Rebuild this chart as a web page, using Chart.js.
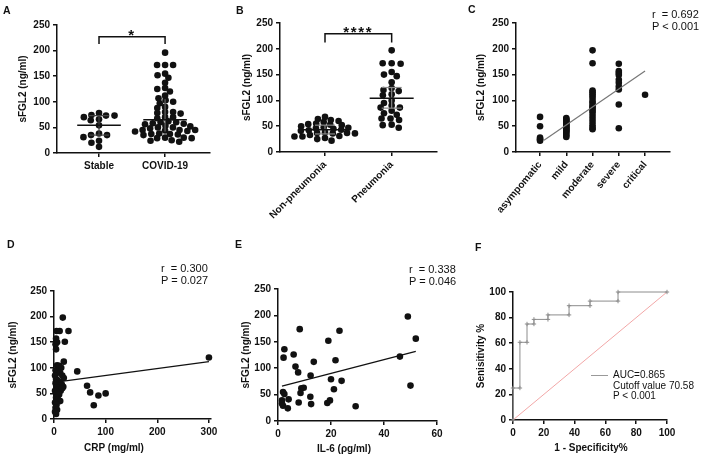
<!DOCTYPE html>
<html>
<head>
<meta charset="utf-8">
<script src="https://cdn.jsdelivr.net/npm/chart.js@4.4.0/dist/chart.umd.min.js"></script>
<style>
body { margin: 0; background: #fff; width: 702px; height: 460px; position: relative; overflow: hidden; font-family: 'Liberation Sans', Arial, sans-serif; color: #111; }
canvas { position: absolute; }
.lab { position: absolute; font-weight: bold; font-size: 10.5px; line-height: 10.5px; }
.note { position: absolute; font-size: 11px; line-height: 12px; white-space: pre; }
.leg { position: absolute; font-size: 10px; line-height: 10.5px; white-space: pre; }
.ttl { position: absolute; font-weight: bold; font-size: 10px; white-space: nowrap; transform: translate(-50%, -50%); }
</style>
</head>
<body>
<canvas id="cA" width="234" height="215" style="left:0;top:0"></canvas>
<canvas id="cB" width="234" height="230" style="left:234px;top:0"></canvas>
<canvas id="cC" width="234" height="230" style="left:468px;top:0"></canvas>
<canvas id="cD" width="234" height="235" style="left:0;top:225px"></canvas>
<canvas id="cE" width="234" height="235" style="left:234px;top:225px"></canvas>
<canvas id="cF" width="234" height="235" style="left:468px;top:225px"></canvas>

<div class="lab" style="left:3px;top:5px">A</div>
<div class="lab" style="left:236px;top:5px">B</div>
<div class="lab" style="left:468px;top:4px">C</div>
<div class="lab" style="left:7px;top:239px">D</div>
<div class="lab" style="left:235px;top:239px">E</div>
<div class="lab" style="left:475px;top:242px">F</div>

<div class="note" style="left:652px;top:8px">r  = 0.692
P &lt; 0.001</div>
<div class="note" style="left:161px;top:262px">r  = 0.300
P = 0.027</div>
<div class="note" style="left:409px;top:263px">r  = 0.338
P = 0.046</div>

<div class="ttl" style="left:114px;top:447px">CRP (mg/ml)</div>
<div class="ttl" style="left:344px;top:448px">IL-6 (ρg/ml)</div>
<div class="ttl" style="left:591px;top:447px">1 - Specificity%</div>

<div style="position:absolute;left:591px;top:375px;width:17px;border-top:1px solid #999"></div>
<div class="leg" style="left:613px;top:370px">AUC=0.865
Cutoff value 70.58
P &lt; 0.001</div>

<script>
// ---------- data ----------
const groupsA = ['Stable', 'COVID-19'];
const stableVals = [74, 70, 73, 78, 73, 64, 66, 54, 35, 35, 31, 38, 24, 20, 12];
const covidVals = [196, 172, 172, 172, 155, 152, 147, 137, 125, 127, 120, 112, 107, 103, 100, 97, 90, 88,
  80, 78, 80, 77, 70, 68, 70, 57, 60, 60, 58, 62, 56, 52, 50, 53, 50, 48, 45, 43, 45, 42, 44, 45,
  37, 36, 38, 35, 37, 30, 29, 30, 29, 25, 24, 22];
const mediansA = [54, 65];
const iqrA = [[35, 73], [42, 105]];

const groupsB = ['Non-pneumonia', 'Pneumonia'];
const nonPneuVals = [68, 62, 64, 60, 58, 54, 52, 53, 55, 50, 47, 48, 45, 46, 42, 41, 43, 36, 37, 36, 38, 37,
  30, 30, 31, 33, 27, 25, 22];
const pneuVals = [197, 172, 172, 171, 150, 147, 155, 135, 118, 124, 120, 110, 112, 86, 95, 100, 86, 90,
  75, 72, 80, 65, 65, 62, 47, 53, 52];
const mediansB = [43, 104];
const iqrB = [[35, 52], [85, 125]];

const groupsC = ['asympomatic', 'mild', 'moderate', 'severe', 'critical'];
const severityVals = [
  [68, 50, 28, 25, 22, 24],
  [66, 64, 62, 60, 58, 56, 54, 52, 50, 48, 46, 44, 42, 40, 38, 35, 32, 29],
  [197, 172, 119, 116, 112, 108, 103, 98, 95, 90, 87, 84, 80, 76, 70, 64, 58, 52, 47, 44],
  [171, 157, 153, 149, 140, 134, 127, 121, 92, 46],
  [111]
];
const trendC = [[1.15, 23], [5, 157]];

const crpX = [17, 5, 11, 28, 4, 6, 3, 21, 4, 19, 6, 10, 14, 45, 3, 8, 12, 16, 19, 2, 4, 7, 11, 15, 18, 3, 5, 9,
  13, 16, 2, 6, 10, 4, 8, 12, 2, 5, 3, 6, 2, 4, 64, 70, 86, 100, 77, 300];
const crpY = [198, 172, 172, 172, 157, 150, 146, 151, 136, 112, 105, 104, 100, 93, 95, 92, 90, 85, 80, 85, 78,
  75, 72, 68, 63, 70, 62, 58, 55, 60, 55, 50, 48, 42, 38, 35, 32, 28, 22, 18, 14, 10, 65, 52, 46, 50, 27, 120];
const trendD = [[4, 72], [300, 112]];

const il6X = [49, 52, 46, 50, 8.2, 23.2, 19, 2.4, 2.1, 5.9, 6.6, 7.6, 13.5, 21.7, 12.3, 8.8, 9.7, 20, 24,
  21.1, 8.5, 12.2, 1.9, 2.4, 1.5, 1.5, 4, 1.9, 3.7, 7.8, 12.5, 18.6, 19.6, 29.3];
const il6Y = [198, 156, 122, 67, 174, 171, 152, 136, 120, 126, 103, 92, 112, 115, 86, 62, 63, 79, 76,
  60, 53, 46, 55, 51, 39, 33, 41, 29, 24, 35, 32, 34, 39, 28];
const trendE = [[1.5, 66], [52, 132]];

const rocX = [0, 0, 4.5, 4.5, 9.1, 9.1, 13.6, 13.6, 22.7, 22.7, 36.4, 36.4, 50, 50, 68.2, 68.2, 100];
const rocY = [0, 25, 25, 60.7, 60.7, 75, 75, 78.6, 78.6, 82.1, 82.1, 89.3, 89.3, 92.9, 92.9, 100, 100];

const ticksSFGL2 = [0, 50, 100, 150, 200, 250];
const ticksCRP = [0, 100, 200, 300];
const ticksIL6 = [0, 20, 40, 60];
const ticksPct = [0, 20, 40, 60, 80, 100];

// ---------- helpers ----------
const INK = '#111';
Chart.defaults.font.family = "'Liberation Sans', Arial, sans-serif";
Chart.defaults.color = INK;

// deterministic beeswarm: each dot takes the free horizontal offset nearest the column centre.
// dots need `ax` px apart side by side, `by` px apart when stacked
function swarm(values, center, xPx, yPx, ax, by) {
  const placed = [];
  values.slice().sort((a, b) => b - a).forEach(v => {
    const y = v * yPx;
    const blocks = [];
    placed.forEach(p => {
      const dy = Math.abs(p.y - y);
      if (dy < by) {
        const w = ax * Math.sqrt(1 - (dy / by) * (dy / by));
        blocks.push([p.x - w, p.x + w]);
      }
    });
    const cands = [0];
    blocks.forEach(b => cands.push(b[0], b[1]));
    cands.sort((a, b) => Math.abs(a) - Math.abs(b) || a - b);
    const x = cands.find(c => blocks.every(b => c <= b[0] + 1e-6 || c >= b[1] - 1e-6));
    placed.push({ x, y, v });
  });
  return placed.map(p => ({ x: center + p.x / xPx, y: p.v }));
}

function dots(points, r) {
  return { data: points, pointRadius: r || 3.3, pointHoverRadius: r || 3.3, backgroundColor: INK, borderWidth: 0, clip: false };
}

function seg(pts, color, w) {
  return { data: pts.map(p => ({ x: p[0], y: p[1] })), showLine: true, borderColor: color, borderWidth: w,
    pointRadius: 0, pointHoverRadius: 0, clip: false };
}

function summaryLines(center, med, iqr, iqrColor, caps) {
  const out = [seg([[center - 0.33, med], [center + 0.33, med]], INK, 1.5)];
  out.push(seg([[center, iqr[0]], [center, iqr[1]]], iqrColor, 1.2));
  if (caps) {
    out.push(seg([[center - 0.15, iqr[0]], [center + 0.15, iqr[0]]], iqrColor, 1.2));
    out.push(seg([[center - 0.15, iqr[1]], [center + 0.15, iqr[1]]], iqrColor, 1.2));
  }
  return out;
}

const gridStyle = { drawOnChartArea: false, color: INK, lineWidth: 1.5, tickLength: 4 };
const borderStyle = { color: INK, width: 1.5 };
const tickFont = { weight: 'bold', size: 10 };

function yAxis(w, ticks, title, titlePad) {
  return {
    type: 'linear', min: ticks[0], max: ticks[ticks.length - 1],
    afterBuildTicks: s => { s.ticks = ticks.map(value => ({ value })); },
    ticks: { color: INK, padding: 3, font: tickFont },
    grid: gridStyle, border: borderStyle,
    title: { display: true, text: title, color: INK, font: { weight: 'bold', size: 10 }, padding: { top: titlePad, bottom: 0 } },
    afterFit: s => { s.width = w; }
  };
}

function catAxis(h, min, max, labels, rot) {
  return {
    type: 'linear', min, max,
    afterBuildTicks: s => { s.ticks = labels.map((_, i) => ({ value: i + 1 })); },
    ticks: { callback: v => labels[Math.round(v) - 1], autoSkip: false, minRotation: rot, maxRotation: rot,
      color: INK, padding: 3, font: tickFont },
    grid: gridStyle, border: borderStyle,
    afterFit: s => { s.height = h; }
  };
}

function numAxis(h, ticks, max) {
  return {
    type: 'linear', min: ticks[0], max: max || ticks[ticks.length - 1],
    afterBuildTicks: s => { s.ticks = ticks.map(value => ({ value })); },
    ticks: { autoSkip: false, color: INK, padding: 3, font: tickFont },
    grid: gridStyle, border: borderStyle,
    afterFit: s => { s.height = h; }
  };
}

// significance bracket between the two groups
const bracketPlugin = {
  id: 'bracket',
  afterDatasetsDraw(chart, args, opts) {
    const { x, y } = chart.scales;
    const ctx = chart.ctx;
    const x1 = x.getPixelForValue(1), x2 = x.getPixelForValue(2);
    const yTop = y.getPixelForValue(opts.y), yBot = y.getPixelForValue(opts.yEnd);
    ctx.save();
    ctx.strokeStyle = INK;
    ctx.lineWidth = 1.5;
    ctx.beginPath();
    ctx.moveTo(x1, yBot); ctx.lineTo(x1, yTop); ctx.lineTo(x2, yTop); ctx.lineTo(x2, yBot);
    ctx.stroke();
    ctx.fillStyle = INK;
    ctx.font = "bold 15px 'Liberation Sans', Arial";
    ctx.textAlign = 'center';
    ctx.letterSpacing = '1.7px';
    ctx.fillText(opts.text, (x1 + x2) / 2, yTop + 3);
    ctx.restore();
  }
};

function plot(id, datasets, scales, pad, extra) {
  return new Chart(document.getElementById(id), {
    type: 'scatter',
    data: { datasets },
    options: {
      responsive: false, animation: false, devicePixelRatio: 1,
      layout: { padding: pad },
      scales,
      plugins: Object.assign({ legend: { display: false }, tooltip: { enabled: false } }, extra ? extra.opts : {})
    },
    plugins: extra ? [extra.plugin] : []
  });
}

// ---------- A ----------
plot('cA', [
  ...summaryLines(1, mediansA[0], iqrA[0], '#444', true),
  ...summaryLines(2, mediansA[1], iqrA[1], '#666', false),
  dots(swarm(stableVals, 1, 66, 0.512, 8.5, 4.5)),
  dots(swarm(covidVals, 2, 66, 0.512, 8, 4.5))
], { x: catAxis(62, 0.364, 2.68, groupsA, 0), y: yAxis(57, ticksSFGL2, 'sFGL2 (ng/ml)', 17) },
  { left: 0, right: 24, top: 25, bottom: 0 },
  { plugin: bracketPlugin, opts: { bracket: { y: 227, yEnd: 213, text: '*' } } });

// ---------- B ----------
plot('cB', [
  ...summaryLines(1, mediansB[0], iqrB[0], '#888', true),
  ...summaryLines(2, mediansB[1], iqrB[1], '#888', true),
  dots(swarm(nonPneuVals, 1, 66.7, 0.516, 8, 4.5)),
  dots(swarm(pneuVals, 2, 66.7, 0.516, 9, 5))
], { x: catAxis(78, 0.325, 2.68, groupsB, 45), y: yAxis(46, ticksSFGL2, 'sFGL2 (ng/ml)', 7) },
  { left: 0, right: 31, top: 23, bottom: 0 },
  { plugin: bracketPlugin, opts: { bracket: { y: 229, yEnd: 212, text: '****' } } });

// ---------- C ----------
plot('cC', [
  seg(trendC, '#777', 1.2),
  dots(severityVals.flatMap((vals, i) => vals.map(v => ({ x: i + 1, y: v }))))
], { x: catAxis(78, 0.084, 5.95, groupsC, 50), y: yAxis(48, ticksSFGL2, 'sFGL2 (ng/ml)', 7) },
  { left: 0, right: 32, top: 23, bottom: 0 });

// ---------- D ----------
plot('cD', [
  seg(trendD, INK, 1.3),
  dots(crpX.map((x, i) => ({ x, y: crpY[i] })))
], { x: numAxis(41, ticksCRP, 304), y: yAxis(54, ticksSFGL2, 'sFGL2 (ng/ml)', 7) },
  { left: 0, right: 23, top: 66, bottom: 0 });

// ---------- E ----------
plot('cE', [
  seg(trendE, INK, 1.3),
  dots(il6X.map((x, i) => ({ x, y: il6Y[i] })))
], { x: numAxis(39, ticksIL6), y: yAxis(44, ticksSFGL2, 'sFGL2 (ng/ml)', 6) },
  { left: 0, right: 31, top: 64, bottom: 0 });

// ---------- F ----------
plot('cF', [
  Object.assign(seg(rocX.map((x, i) => [x, rocY[i]]), '#8c8c8c', 1), {
    pointRadius: 2.2, pointStyle: 'cross', pointBorderColor: '#8c8c8c', pointBorderWidth: 1
  }),
  seg([[0, 0], [100, 100]], '#f2a7a7', 1)
], { x: numAxis(40, ticksPct), y: yAxis(45, ticksPct, 'Senisitivity %', 7) },
  { left: 0, right: 35, top: 67, bottom: 0 });
</script>
</body>
</html>
